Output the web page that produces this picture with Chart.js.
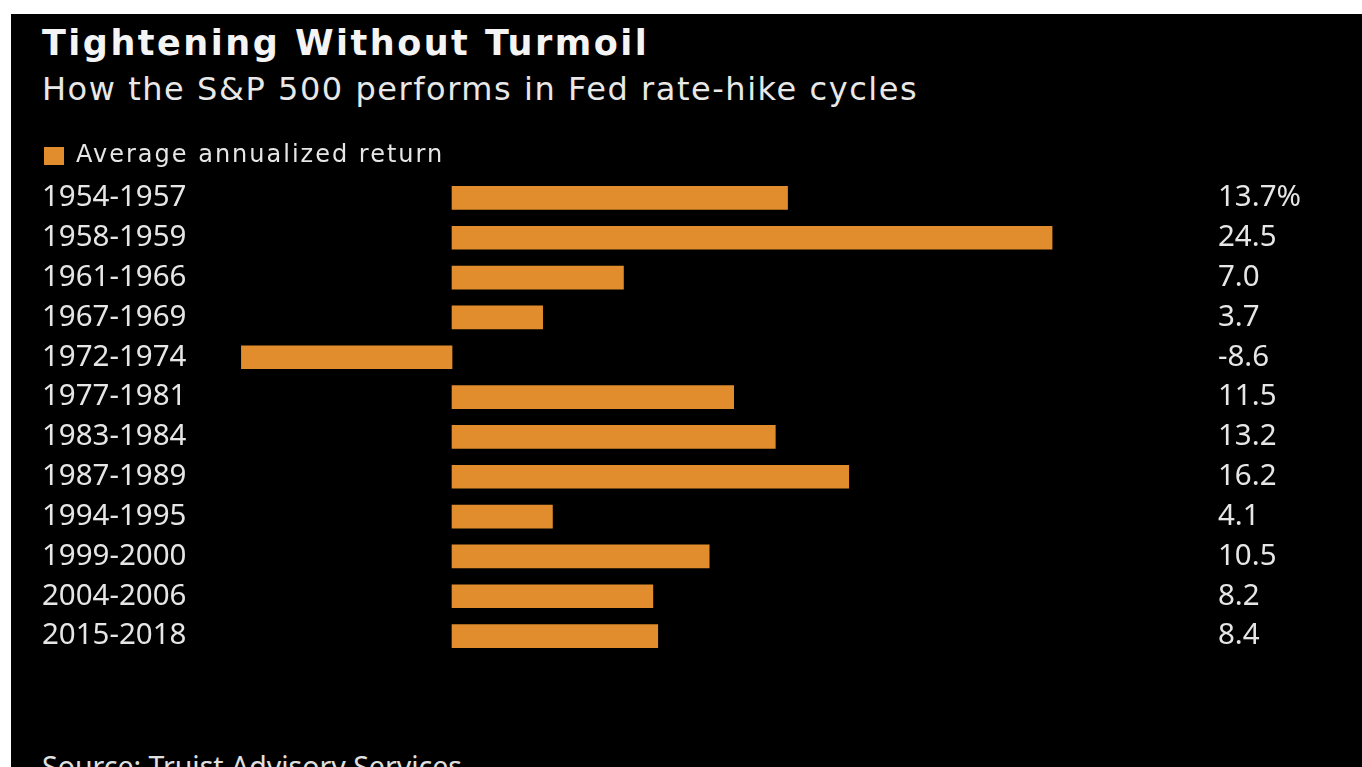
<!DOCTYPE html>
<html>
<head>
<meta charset="utf-8">
<script src="https://cdn.jsdelivr.net/npm/chart.js@4.4.1/dist/chart.umd.min.js"></script>
<style>
  html, body { margin: 0; padding: 0; background: #ffffff; width: 1362px; height: 767px; overflow: hidden; }
  #panel { position: absolute; left: 11px; top: 14px; right: 0; bottom: 0; background: #000000; }
  #page { position: absolute; left: 0; top: 0; width: 1362px; height: 767px; overflow: hidden; }
  .txt { position: absolute; left: 42px; white-space: nowrap; line-height: 1; }
  #title { top: 26px; font-family: "DejaVu Sans", sans-serif; font-weight: bold; font-size: 35px; letter-spacing: 2.5px; color: #f4f4f4; }
  #subtitle { top: 73px; font-family: "DejaVu Sans", sans-serif; font-size: 32px; letter-spacing: 1.55px; color: #e8e8e8; }
  #source { top: 752px; font-family: "Noto Sans", sans-serif; font-size: 28.5px; color: #e0e0e0; }
  #wrap { position: absolute; left: 0; top: 142px; width: 1362px; height: 532px; }
</style>
</head>
<body>
<div id="panel"></div>
<div id="page">
  <div class="txt" id="title">Tightening Without Turmoil</div>
  <div class="txt" id="subtitle">How the S&amp;P 500 performs in Fed rate-hike cycles</div>
  <div id="wrap"><canvas id="chart"></canvas></div>
  <div class="txt" id="source">Source: Truist Advisory Services</div>
</div>
<script>
// Fed rate-hike cycles and the S&P 500's average annualized return in each (%)
const cycles = ["1954-1957", "1958-1959", "1961-1966", "1967-1969", "1972-1974", "1977-1981",
                "1983-1984", "1987-1989", "1994-1995", "1999-2000", "2004-2006", "2015-2018"];
const annualizedReturn = [13.7, 24.5, 7.0, 3.7, -8.6, 11.5, 13.2, 16.2, 4.1, 10.5, 8.2, 8.4];
const seriesName = "Average annualized return";

const ORANGE = "rgb(225,141,45)";
const TEXT = "#e6e6e6";
const LABEL_FONT = { family: "'Noto Sans', sans-serif", size: 29.5 };

// Wider tracking for the legend text only: the legend layer (z 0) is drawn
// before the datasets, the y-axis tick labels are moved to z 1 so they are
// drawn after them with normal spacing.
const legendTracking = {
  id: "legendTracking",
  beforeDraw(chart) { chart.ctx.letterSpacing = "2px"; },
  beforeDatasetsDraw(chart) { chart.ctx.letterSpacing = "0px"; },
  afterDraw(chart) { chart.ctx.letterSpacing = "0px"; }
};

// Right-hand column of values; the first one carries the unit
const valueColumn = {
  id: "valueColumn",
  afterDatasetsDraw(chart) {
    const { ctx } = chart;
    const yScale = chart.scales.y;
    ctx.save();
    ctx.letterSpacing = "0px";
    ctx.font = `${LABEL_FONT.size}px ${LABEL_FONT.family}`;
    ctx.fillStyle = TEXT;
    ctx.textAlign = "left";
    ctx.textBaseline = "middle";
    annualizedReturn.forEach((v, i) => {
      const label = v.toFixed(1) + (i === 0 ? "%" : "");
      ctx.fillText(label, 1218, yScale.getPixelForValue(i));
    });
    ctx.restore();
  }
};

new Chart(document.getElementById("chart"), {
  type: "bar",
  data: {
    labels: cycles,
    datasets: [{
      label: seriesName,
      data: annualizedReturn,
      backgroundColor: ORANGE,
      borderWidth: 0,
      barThickness: 23
    }]
  },
  options: {
    indexAxis: "y",
    responsive: true,
    maintainAspectRatio: false,
    animation: false,
    layout: { padding: { left: 42, right: 297.7, top: 0, bottom: 18 } },
    scales: {
      x: {
        display: false,
        min: -9,
        max: 25
      },
      y: {
        grid: { display: false },
        border: { display: false },
        ticks: {
          z: 1,
          color: TEXT,
          font: LABEL_FONT,
          crossAlign: "far",
          padding: 0
        },
        afterFit(scale) { scale.width = 189.6; }
      }
    },
    plugins: {
      legend: {
        display: true,
        position: "top",
        align: "start",
        labels: {
          color: TEXT,
          font: { family: "'DejaVu Sans', sans-serif", size: 24 },
          boxWidth: 20,
          boxHeight: 18,
          padding: 2
        }
      },
      tooltip: { enabled: false }
    }
  },
  plugins: [legendTracking, valueColumn]
});
</script>
</body>
</html>
